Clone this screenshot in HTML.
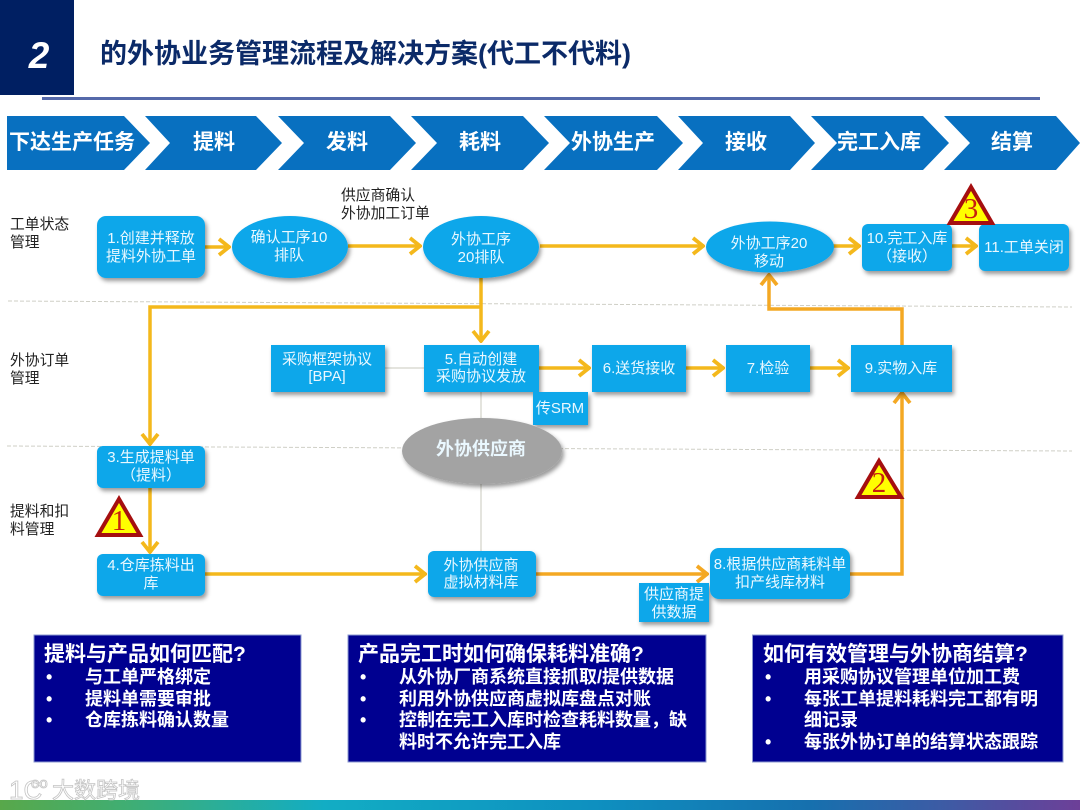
<!DOCTYPE html>
<html lang="zh"><head><meta charset="utf-8"><title>外协业务管理流程</title>
<style>
html,body{margin:0;padding:0;background:#fff;width:1080px;height:810px;overflow:hidden}
svg{display:block;filter:blur(.35px)}
text{font-family:"Liberation Sans","Noto Sans CJK SC",sans-serif}
.n rect,.n ellipse{fill:#0ea7ea}
.n{filter:url(#s)}
.t text{fill:#eaf8ff;font-size:15px;text-anchor:middle}
.c text{fill:#fff;font-size:21px;font-weight:700;text-anchor:middle}
.l text{fill:#222;font-size:14.8px}
.y{fill:none;stroke:#f4b81c;stroke-width:3.5;marker-end:url(#a)}
.o{fill:none;stroke:#f4a823;stroke-width:3.5;marker-end:url(#b)}
.b text{fill:#fff;font-size:18px;font-weight:700}
.b .h{font-size:21px;font-weight:700}
.tri polygon{fill:#ffff00;stroke:#a50f10;stroke-width:4;stroke-linejoin:miter}
.tri text{font-family:"Liberation Serif",serif;font-size:29px;fill:#c8200f;text-anchor:middle}
</style></head><body>
<svg width="1080" height="810" viewBox="0 0 1080 810" xmlns="http://www.w3.org/2000/svg">
<defs>
<filter id="s" x="-15%" y="-15%" width="130%" height="135%"><feDropShadow dx="2" dy="3" stdDeviation="2" flood-color="#000" flood-opacity=".4"/></filter>
<marker id="a" viewBox="0 0 16 22" refX="15" refY="11" markerWidth="16" markerHeight="22" orient="auto" markerUnits="userSpaceOnUse"><path d="M4 3 L14 11 L4 19" fill="none" stroke="#f4b81c" stroke-width="3.8"/></marker>
<marker id="b" viewBox="0 0 16 22" refX="15" refY="11" markerWidth="16" markerHeight="22" orient="auto" markerUnits="userSpaceOnUse"><path d="M4 3 L14 11 L4 19" fill="none" stroke="#f4a823" stroke-width="3.8"/></marker>
<linearGradient id="g" x1="0" x2="1" y1="0" y2="0"><stop offset="0" stop-color="#58a84a"/><stop offset=".12" stop-color="#3fae74"/><stop offset=".3" stop-color="#12adc4"/><stop offset=".55" stop-color="#0e90c0"/><stop offset=".75" stop-color="#1670ae"/><stop offset=".88" stop-color="#3f5aa4"/><stop offset="1" stop-color="#6d3f98"/></linearGradient>
</defs>

<rect x="0" y="0" width="74" height="95" fill="#001f62"/>
<text x="39" y="68" fill="#fff" font-size="37" font-weight="700" font-style="italic" text-anchor="middle">2</text>
<text x="100" y="63" fill="#0b2a68" font-size="27" font-weight="700">的外协业务管理流程及解决方案(代工不代料)</text>
<rect x="42" y="97" width="998" height="3" fill="#5569aa"/>

<g fill="#0870c0">
<polygon points="7,116 124,116 150,143 124,170 7,170"/>
<polygon points="145,116 256,116 282,143 256,170 145,170 170,143"/>
<polygon points="278,116 390,116 416,143 390,170 278,170 304,143"/>
<polygon points="411,116 523,116 549,143 523,170 411,170 437,143"/>
<polygon points="544,116 657,116 683,143 657,170 544,170 570,143"/>
<polygon points="678,116 790,116 815,143 790,170 678,170 703,143"/>
<polygon points="811,116 923,116 949,143 923,170 811,170 837,143"/>
<polygon points="944,116 1056,116 1080,143 1056,170 944,170 970,143"/>
</g>
<g class="c">
<text x="72" y="149">下达生产任务</text><text x="214" y="149">提料</text><text x="347" y="149">发料</text><text x="480" y="149">耗料</text><text x="613" y="149">外协生产</text><text x="746" y="149">接收</text><text x="879" y="149">完工入库</text><text x="1012" y="149">结算</text>
</g>

<g fill="none" stroke="#cfcfc6" stroke-width="1" stroke-dasharray="4 2">
<path d="M8 301 L1072 307"/><path d="M7 446 L1072 451"/>
</g>
<path d="M385 368H424M481 392V551" stroke="#c8c8bc" stroke-width="1" fill="none"/>

<g class="l">
<text x="10" y="229">工单状态</text><text x="10" y="247">管理</text>
<text x="10" y="365">外协订单</text><text x="10" y="383">管理</text>
<text x="10" y="516">提料和扣</text><text x="10" y="534">料管理</text>
<text x="341" y="200">供应商确认</text><text x="341" y="218">外协加工订单</text>
</g>

<path class="y" d="M205 247H230"/>
<path class="y" d="M348 246H421"/>
<path class="y" d="M540 246H704"/>
<path class="y" d="M833 246H860"/>
<path class="y" d="M952 246H977"/>
<path class="y" d="M481 277V342"/>
<path class="y" d="M481 307H150V445"/>
<path class="y" d="M150 488V553"/>
<path class="y" d="M205 574H426"/>
<path class="o" d="M535 574H708"/>
<path class="o" d="M850 574H902V392"/>
<path class="o" d="M902 345V309H769V274"/>
<path class="y" d="M539 368H590"/>
<path class="y" d="M686 368H724"/>
<path class="y" d="M810 368H849"/>

<g class="n">
<rect x="97" y="216" width="108" height="62" rx="9"/>
<ellipse cx="290" cy="247" rx="58" ry="31"/>
<ellipse cx="481" cy="247" rx="58" ry="31"/>
<ellipse cx="770" cy="247" rx="64" ry="25.500"/>
<rect x="862" y="224" width="90" height="47" rx="6"/>
<rect x="979" y="224" width="90" height="47" rx="6"/>
<rect x="271" y="345" width="114" height="47"/>
<rect x="533" y="392" width="55" height="33"/>
<rect x="424" y="345" width="115" height="47"/>
<rect x="592" y="345" width="94" height="47"/>
<rect x="726" y="345" width="84" height="47"/>
<rect x="851" y="345" width="101" height="47"/>
<rect x="97" y="446" width="108" height="42" rx="6"/>
<rect x="97" y="554" width="108" height="42" rx="6"/>
<rect x="428" y="551" width="108" height="46" rx="6"/>
<rect x="639" y="583" width="70" height="39"/>
<rect x="710" y="548" width="140" height="51" rx="9"/>
<ellipse cx="482" cy="451" rx="80" ry="33" style="fill:#a3a3a3"/>
</g>

<g class="t">
<text x="151" y="243">1.创建并释放</text><text x="151" y="261">提料外协工单</text>
<text x="289" y="242">确认工序10</text><text x="289" y="260">排队</text>
<text x="481" y="244">外协工序</text><text x="481" y="262">20排队</text>
<text x="769" y="248">外协工序20</text><text x="769" y="266">移动</text>
<text x="907" y="243">10.完工入库</text><text x="907" y="261">（接收）</text>
<text x="1024" y="252">11.工单关闭</text>
<text x="327" y="364">采购框架协议</text><text x="327" y="381">[BPA]</text>
<text x="481" y="364">5.自动创建</text><text x="481" y="381">采购协议发放</text>
<text x="560" y="413">传SRM</text>
<text x="639" y="373">6.送货接收</text>
<text x="768" y="373">7.检验</text>
<text x="901" y="373">9.实物入库</text>
<text x="151" y="462">3.生成提料单</text><text x="151" y="480">（提料）</text>
<text x="151" y="570">4.仓库拣料出</text><text x="151" y="588">库</text>
<text x="481" y="570">外协供应商</text><text x="481" y="587">虚拟材料库</text>
<text x="780" y="569">8.根据供应商耗料单</text><text x="780" y="587">扣产线库材料</text>
<text x="674" y="599">供应商提</text><text x="674" y="617">供数据</text>
<text x="481" y="455" style="font-size:18px;font-weight:700">外协供应商</text>
</g>

<g class="tri">
<polygon points="119,499 98,535 140,535"/><text x="119" y="530">1</text>
<polygon points="879,461 858,497 901,497"/><text x="879" y="492">2</text>
<polygon points="971,187 950,223 992,223"/><text x="971" y="218">3</text>
</g>

<g fill="#000090" stroke="#8d9ad0" stroke-width="1">
<rect x="34" y="635" width="267" height="127"/>
<rect x="348" y="635" width="358" height="127"/>
<rect x="752.500" y="635" width="310.500" height="127"/>
</g>
<g class="b">
<text class="h" x="44" y="661">提料与产品如何匹配?</text>
<text x="46" y="683">•</text><text x="85" y="683">与工单严格绑定</text>
<text x="46" y="705">•</text><text x="85" y="705">提料单需要审批</text>
<text x="46" y="726">•</text><text x="85" y="726">仓库拣料确认数量</text>

<text class="h" x="358" y="661">产品完工时如何确保耗料准确?</text>
<text x="360" y="683">•</text><text x="399" y="683">从外协厂商系统直接抓取/提供数据</text>
<text x="360" y="705">•</text><text x="399" y="705">利用外协供应商虚拟库盘点对账</text>
<text x="360" y="726">•</text><text x="399" y="726">控制在完工入库时检查耗料数量，缺</text>
<text x="399" y="748">料时不允许完工入库</text>

<text class="h" x="763" y="661">如何有效管理与外协商结算?</text>
<text x="765" y="683">•</text><text x="804" y="683">用采购协议管理单位加工费</text>
<text x="765" y="705">•</text><text x="804" y="705">每张工单提料耗料完工都有明</text>
<text x="804" y="726">细记录</text>
<text x="765" y="748">•</text><text x="804" y="748">每张外协订单的结算状态跟踪</text>
</g>

<rect x="0" y="800" width="1080" height="10" fill="url(#g)"/>
<g fill="#fff" stroke="#c4c4c4" stroke-width=".8">
<text x="9" y="799" font-size="26">1C</text>
<text x="31" y="788" font-size="15">oo</text>
<text x="52" y="798" font-size="22">大数跨境</text>
</g>
</svg>
</body></html>
